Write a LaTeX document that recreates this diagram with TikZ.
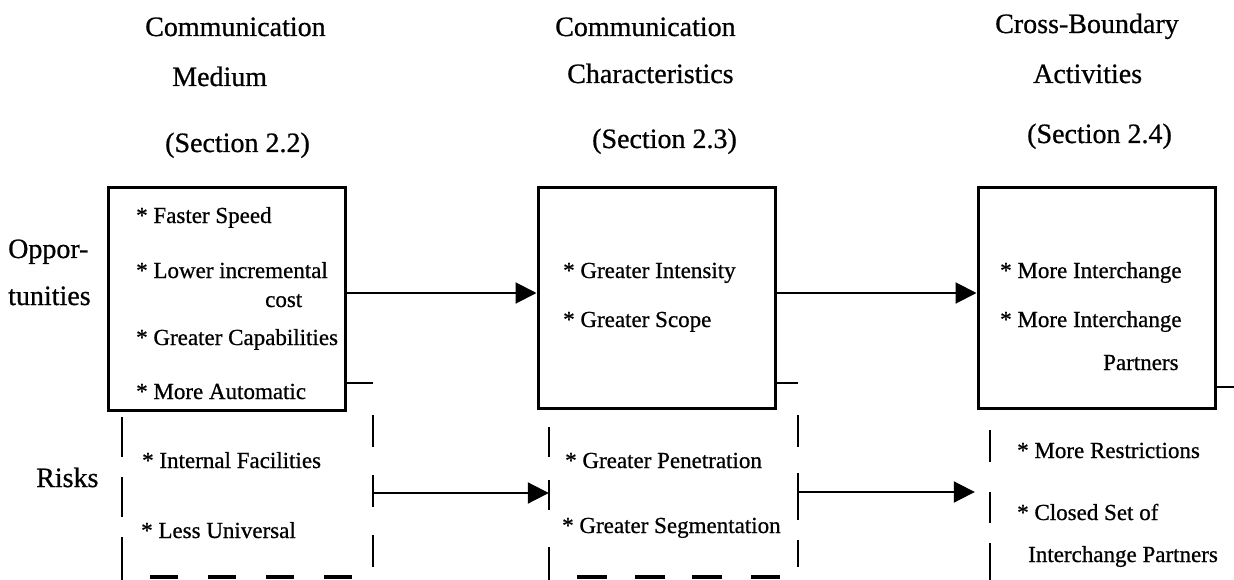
\documentclass[tikz,border=0pt]{standalone}
\usepackage{fontspec}
\setmainfont[FakeBold=0.7]{Liberation Serif}
\usetikzlibrary{arrows.meta,calc}
\begin{document}
\begin{tikzpicture}[x=1pt,y=-1pt,
  hdr/.style={anchor=base west,inner sep=0pt,font=\fontsize{28}{32}\selectfont},
  item/.style={anchor=base west,inner sep=0pt,font=\fontsize{23}{27}\selectfont},
  solidbox/.style={draw,line width=3pt,minimum width=237pt,inner sep=0pt},
  area/.style={inner sep=0pt,minimum height=195pt},
  riskline/.style={line width=2.6pt},
  arr/.style={line width=2pt,-{Triangle[length=21pt,width=21pt]}}]
\useasboundingbox[fill=white] (0,0) rectangle (1234,580);

% headers
\node[hdr] (h1a) at (145,36) {Communication};
\node[hdr] (h1b) at (172,86) {Medium};
\node[hdr] (h1c) at (165,152) {(Section 2.2)};
\node[hdr] (h2a) at (555,36) {Communication};
\node[hdr] (h2b) at (567,83) {Characteristics};
\node[hdr] (h2c) at (592,148) {(Section 2.3)};
\node[hdr] (h3a) at (995,33) {Cross-Boundary};
\node[hdr] (h3b) at (1033,83) {Activities};
\node[hdr] (h3c) at (1027,143) {(Section 2.4)};

% row labels
\node[hdr] (lo1) at (8,258) {Oppor-};
\node[hdr] (lo2) at (8,305) {tunities};
\node[hdr] (lr) at (36,487) {Risks};

% boxes
\node[solidbox,minimum height=222pt] (m) at (226.5,299) {};
\node[solidbox,minimum height=220pt] (c) at (656.5,298) {};
\node[solidbox,minimum height=220pt] (a) at (1096.5,298) {};

% risk areas (invisible anchors)
\node[area,minimum width=251pt] (mr) at (247.5,480.5) {};
\node[area,minimum width=249pt] (cr) at (673.5,480.5) {};
\node[area,minimum width=250pt] (ar) at (1115,480.5) {};

% risk outlines
\draw[riskline] (mr.north east -| m.east) -- (mr.north east);
\draw[riskline] (373,415)--(373,447) (373,475)--(373,507) (373,535)--(373,567);
\draw[riskline] (122,417)--(122,457) (122,477)--(122,517) (122,537)--(122,580);
\draw[line width=3.5pt] (150,577)--(178,577) (208,577)--(236,577) (266,577)--(294,577) (324,577)--(352,577);

\draw[riskline] (cr.north east -| c.east) -- (cr.north east);
\draw[riskline] (798,415)--(798,447) (798,473)--(798,520) (798,540)--(798,567);
\draw[riskline] (549,427)--(549,457) (549,480)--(549,510) (549,547)--(549,580);
\draw[line width=3.5pt] (577,577)--(607,577) (635,577)--(665,577) (692,577)--(722,577) (751,577)--(780,577);

\draw[riskline] (990,430)--(990,462) (990,492)--(990,523) (990,543)--(990,580);
\coordinate (aedge) at (1234,387);
\draw[riskline] (a.east |- aedge) -- (aedge);

% arrows
\draw[arr] ([yshift=6pt]m.east) -- ([yshift=6pt]m.east -| c.west);
\draw[arr] ([yshift=5pt]c.east) -- ([yshift=5pt]c.east -| a.west);
\draw[arr] ([yshift=-12.5pt]mr.east) -- ([yshift=-12.5pt]mr.east -| cr.west);
\draw[arr] ([yshift=-11.5pt]cr.east) -- ([xshift=-15pt,yshift=-11.5pt]cr.east -| ar.west);

% box 1 text
\node[item] (t1) at (136,223) {* Faster Speed};
\node[item] (t2) at (136,278) {* Lower incremental};
\node[item] (t3) at (265,307) {cost};
\node[item] (t4) at (136,345) {* Greater Capabilities};
\node[item] (t5) at (136,399) {* More Automatic};
\node[item] (t6) at (142,468) {* Internal Facilities};
\node[item] (t7) at (141,538) {* Less Universal};

% box 2 text
\node[item] (u1) at (563,278) {* Greater Intensity};
\node[item] (u2) at (563,327) {* Greater Scope};
\node[item] (u3) at (565,468) {* Greater Penetration};
\node[item] (u4) at (562,533) {* Greater Segmentation};

% box 3 text
\node[item] (v1) at (1000,278) {* More Interchange};
\node[item] (v2) at (1000,327) {* More Interchange};
\node[item] (v3) at (1103,370) {Partners};
\node[item] (v4) at (1017,458) {* More Restrictions};
\node[item] (v5) at (1017,520) {* Closed Set of};
\node[item] (v6) at (1028,562) {Interchange Partners};
\end{tikzpicture}
\end{document}
